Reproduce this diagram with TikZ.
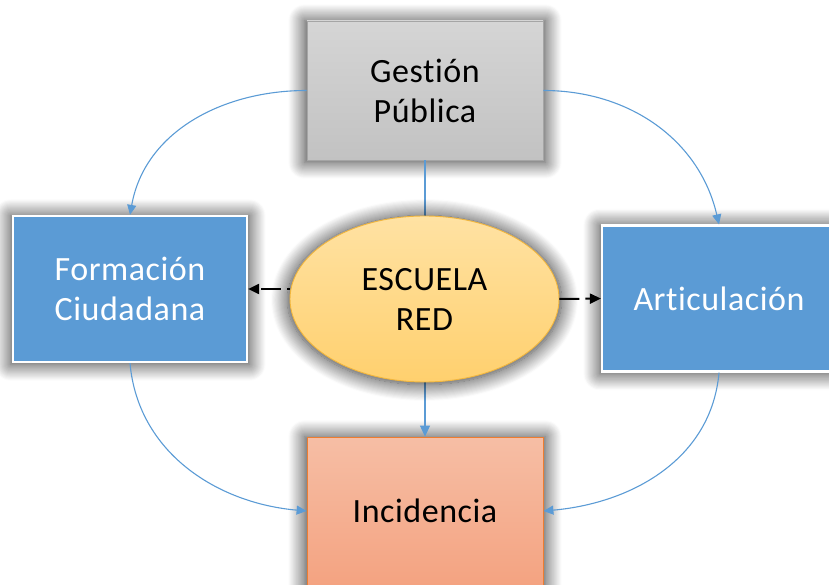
\documentclass[tikz,border=0pt]{standalone}
\usepackage{fontspec}
\setmainfont{Carlito}[Ligatures=NoCommon,LetterSpace=1.6]
\usetikzlibrary{arrows.meta,shapes.geometric,shadows.blur}
\definecolor{blueA}{HTML}{5B9BD5}
\definecolor{grayT}{HTML}{D5D5D5}
\definecolor{grayBt}{HTML}{C2C2C2}
\definecolor{grayE}{HTML}{A5A5A5}
\definecolor{orT}{HTML}{F6BEA5}
\definecolor{orB}{HTML}{F4A381}
\definecolor{orE}{HTML}{ED7D31}
\definecolor{yeT}{HTML}{FFE2A3}
\definecolor{yeB}{HTML}{FFD06E}
\definecolor{yeE}{HTML}{F2B63D}
\begin{document}
\begin{tikzpicture}[x=1pt,y=1pt,
  glow/.style={blur shadow={shadow xshift=0pt,shadow yshift=-1pt,shadow scale=1.02,shadow blur radius=16pt,shadow blur steps=16,shadow opacity=80}},
  txt/.style={font=\fontsize{34}{40}\selectfont, align=center, inner sep=0pt},
  graybox/.style={glow, rectangle, minimum width=236pt, minimum height=139pt, draw=grayE, line width=0.8pt, top color=grayT, bottom color=grayBt, txt},
  bluebox/.style={glow, rectangle, minimum width=234pt, minimum height=146pt, draw=white, line width=2.2pt, fill=blueA, text=white, txt},
  orbox/.style={glow, rectangle, minimum width=236pt, minimum height=148pt, draw=orE, line width=0.8pt, top color=orT, bottom color=orB, txt},
  oval/.style={glow, ellipse, minimum width=269pt, minimum height=166pt, draw=yeE, line width=0.9pt, top color=yeT, bottom color=yeB, txt},
  conn/.style={blueA, line width=1.1pt, -{Triangle[length=10pt,width=9pt]}},
  dasharr/.style={black, line width=2pt, dash pattern=on 20pt off 6pt, -{Triangle[length=11pt,width=10pt]}}
]
\useasboundingbox (0,0) rectangle (829,584);
\node[graybox] (g) at (425,493.5) {Gestión\\Pública};
\node[bluebox] (f) at (130,295) {Formación\\Ciudadana};
\node[bluebox] (a) at (719,285.5) {Articulación};
\node[orbox] (i) at (425,73) {Incidencia};
\draw[conn, -{Triangle[length=11pt,width=10pt]}] (g.south) -- (i.north);
\node[oval] (e) at (424.5,285) {ESCUELA\\RED};
\draw[dasharr, dash phase=17pt] (e.west |- f.east) -- (f.east);
\draw[dasharr] (e.east) -- (a.west);
\draw[conn] (g.west) to[out=180,in=80] (f.north);
\draw[conn] (g.east) to[out=0,in=103] (a.north);
\draw[conn] (f.south) to[out=-85,in=175] (i.west);
\draw[conn] (a.south) to[out=-95,in=5] (i.east);
\end{tikzpicture}
\end{document}
